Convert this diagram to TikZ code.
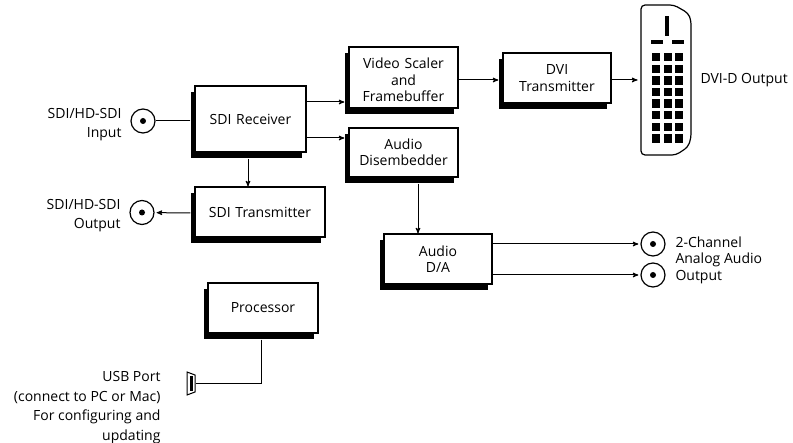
\documentclass[tikz,border=0pt]{standalone}
\usepackage{fontspec}
\setmainfont{Open Sans}
\usetikzlibrary{arrows,positioning,shadows}
\tikzset{
  >=stealth',
  block/.style={draw, line width=1.2pt, fill=white, align=center, inner sep=0pt, text width=#1,
    drop shadow={shadow xshift=-4pt, shadow yshift=-6pt, opacity=1, fill=black}},
  bnc/.style={draw, circle, line width=1.2pt, fill=white, minimum size=24pt, inner sep=0pt,
    path picture={\fill[black] (path picture bounding box.center) circle (3pt);}},
  label/.style={align=right, inner sep=0pt},
  every node/.append style={font=\fontsize{14}{16.5}\selectfont},
}
\begin{document}
\begin{tikzpicture}[x=1pt, y=-1pt, ->, line width=1pt]
    \useasboundingbox (0,0) rectangle (793,443);
    % blocks
    \node[block=111pt, minimum height=66pt] (rx)   at (250.5,119) {\raisebox{-3pt}{SDI Receiver}};
    \node[block=130pt, minimum height=50pt] (tx)   at (260,212)   {\raisebox{-2pt}{SDI Transmitter}};
    \node[block=110pt, minimum height=50pt] (proc) at (263,308)   {\raisebox{-1pt}{Processor}};
    \node[block=109pt, minimum height=61pt] (vs)   at (403.5,77.5) {\rule{0pt}{15.5pt}Video Scaler\\and\\Framebuffer};
    \node[block=108pt, minimum height=50pt] (dvi)  at (557,78)    {DVI\\Transmitter};
    \node[block=109pt, minimum height=49pt] (dis)  at (403.5,152.5) {Audio\\Disembedder};
    \node[block=108pt, minimum height=50pt] (da)   at (438,259)   {Audio\\D/A};
    % connectors
    \node[bnc] (in)   at (143,121) {};
    \node[bnc] (out)  at (142,212.5) {};
    \node[bnc] (aud1) at (653,244) {};
    \node[bnc] (aud2) at (653,275) {};
    % labels
    \node[label, anchor=east, font=\fontsize{14}{19}\selectfont] (inlbl)  at (122,124.5) {SDI/HD-SDI\\Input};
    \node[label, anchor=east, font=\fontsize{14}{19}\selectfont] (outlbl) at (121,215.5) {SDI/HD-SDI\\Output};
    \node[label, anchor=west, align=left] (audlbl) at (675,260) {2-Channel\\Analog Audio\\Output};
    \node[label, anchor=east, font=\fontsize{14}{19.5}\selectfont] (usblbl) at (161,407.5) {USB Port\\(connect to PC or Mac)\\For configuring and\\updating};
    \node[label, anchor=west] (dvilbl) at (700,80) {DVI-D Output};
    % DVI connector
    \node[inner sep=0pt, minimum width=50pt, minimum height=150pt] (dvid) at (666,80) {};
    \draw[-, line width=1.2pt, rounded corners=4pt] (641,5) -- (674,5) -- (688,13) -- (691,20) -- (691,138) -- (688,147) -- (676,155) -- (641,155) -- cycle;
    \fill (665,16) rectangle (669,36);
    \fill (651,40) rectangle (663,44);
    \fill (672,40) rectangle (684,44);
    \foreach \col in {652,663.5,675}
      \foreach \row in {0,...,7}
        \fill (\col,53+\row*11.6) rectangle ++(8,8.5);
    % USB port
    \node[inner sep=0pt, minimum width=8pt, minimum height=23pt] (usb) at (191,383.5) {};
    \draw[-, fill=white] (187,372) -- (195,375) -- (195,392) -- (187,395) -- cycle;
    \fill (189.5,376) rectangle (193,391);
    % links
    \draw ([yshift=17pt]rx.east) -- ([yshift=-24.5pt, xshift=-4pt]vs.west);
    \draw ([yshift=-19pt]rx.east) -- ([yshift=14.5pt, xshift=-4pt]dis.west);
    \draw ([xshift=-2.5pt, yshift=-6pt]rx.south) -- ([xshift=-12pt]tx.north);
    \draw[-] ([xshift=-4pt, yshift=-2pt]rx.west) -- (in);
    \draw[shorten >=2pt] ([xshift=-4pt, yshift=-1pt]tx.west) -- (out);
    \draw ([yshift=-2pt]vs.east |- dvi.west) -- ([xshift=-4pt, yshift=-2pt]dvi.west);
    \draw ([yshift=-6pt, xshift=14.5pt]dis.south) -- ([xshift=-20pt]da.north);
    \draw[shorten >=2pt] ([yshift=15pt]da.east) -- (aud1);
    \draw[shorten >=2pt] ([yshift=-16pt]da.east) -- (aud2);
    \draw[shorten >=3pt] ([yshift=-2pt]dvi.east) -- (dvid);
    \draw[-] ([xshift=-2pt, yshift=-6pt]proc.south) |- (usb.east);
  \end{tikzpicture}
\end{document}
